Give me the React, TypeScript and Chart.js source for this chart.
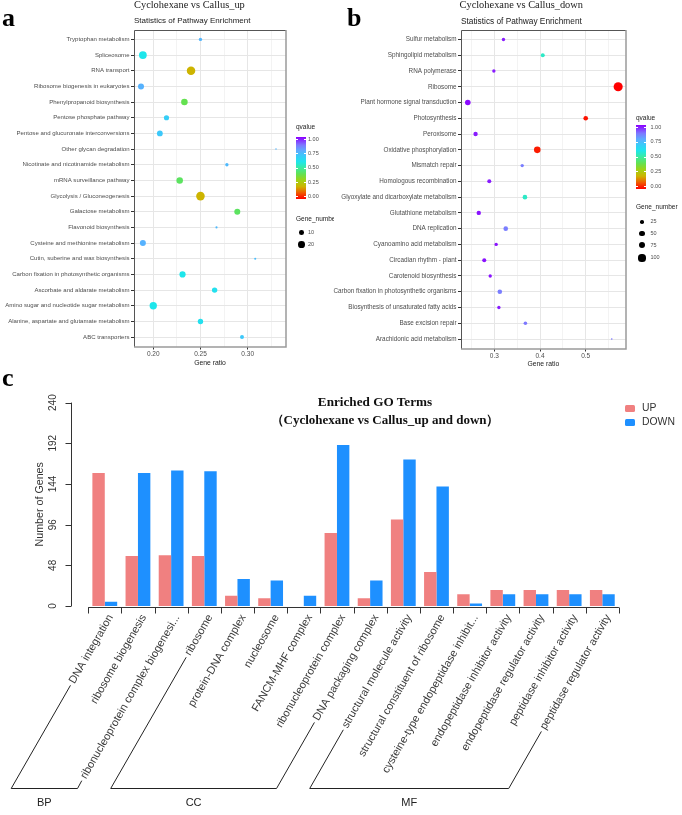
import React, { useEffect, useRef } from 'react';
import { Chart, registerables } from 'chart.js';
Chart.register(...registerables);

const SANS = '"Liberation Sans", Arial, sans-serif';
const SERIF = '"Liberation Serif", "Times New Roman", serif';

// ---------- Panel a : Cyclohexane vs Callus_up ----------
const catsA = [
  'Tryptophan metabolism', 'Spliceosome', 'RNA transport', 'Ribosome biogenesis in eukaryotes',
  'Phenylpropanoid biosynthesis', 'Pentose phosphate pathway', 'Pentose and glucuronate interconversions',
  'Other glycan degradation', 'Nicotinate and nicotinamide metabolism', 'mRNA surveillance pathway',
  'Glycolysis / Gluconeogenesis', 'Galactose metabolism', 'Flavonoid biosynthesis',
  'Cysteine and methionine metabolism', 'Cutin, suberine and wax biosynthesis',
  'Carbon fixation in photosynthetic organisms', 'Ascorbate and aldarate metabolism',
  'Amino sugar and nucleotide sugar metabolism', 'Alanine, aspartate and glutamate metabolism',
  'ABC transporters',
];
const ratioA = [0.250, 0.189, 0.240, 0.187, 0.233, 0.214, 0.207, 0.330, 0.278, 0.228, 0.250, 0.289, 0.267, 0.189, 0.308, 0.231, 0.265, 0.200, 0.250, 0.294];
const genesA = [5, 27, 32, 16, 19, 12, 15, 1, 5, 19, 33, 16, 2, 16, 2, 17, 13, 24, 13, 7];
const qA = [0.75, 0.6, 0.2, 0.76, 0.4, 0.68, 0.7, 0.75, 0.74, 0.42, 0.2, 0.42, 0.74, 0.76, 0.73, 0.6, 0.62, 0.6, 0.62, 0.7];
const sizeBreaksA = [10, 20];

// ---------- Panel b : Cyclohexane vs Callus_down ----------
const catsB = [
  'Sulfur metabolism', 'Sphingolipid metabolism', 'RNA polymerase', 'Ribosome',
  'Plant hormone signal transduction', 'Photosynthesis', 'Peroxisome', 'Oxidative phosphorylation',
  'Mismatch repair', 'Homologous recombination', 'Glyoxylate and dicarboxylate metabolism',
  'Glutathione metabolism', 'DNA replication', 'Cyanoamino acid metabolism', 'Circadian rhythm - plant',
  'Carotenoid biosynthesis', 'Carbon fixation in photosynthetic organisms',
  'Biosynthesis of unsaturated fatty acids', 'Base excision repair', 'Arachidonic acid metabolism',
];
const ratioB = [0.320, 0.406, 0.299, 0.571, 0.242, 0.500, 0.259, 0.394, 0.361, 0.289, 0.367, 0.266, 0.325, 0.304, 0.278, 0.291, 0.312, 0.310, 0.368, 0.557];
const genesB = [22, 31, 22, 160, 60, 41, 37, 84, 22, 31, 41, 37, 41, 22, 31, 22, 41, 22, 25, 5];
const qB = [0.97, 0.55, 0.97, 0, 0.99, 0.02, 0.97, 0.03, 0.86, 0.97, 0.55, 0.98, 0.86, 0.98, 0.98, 0.98, 0.86, 0.97, 0.87, 0.87];
const sizeBreaksB = [25, 50, 75, 100];

const qBreaks = [1, 0.75, 0.5, 0.25, 0];

// ---------- Panel c : Enriched GO terms ----------
const goTerms = [
  'DNA integration', 'ribosome biogenesis', 'ribonucleoprotein complex biogenesi...', 'ribosome',
  'protein-DNA complex', 'nucleosome', 'FANCM-MHF complex', 'ribonucleoprotein complex',
  'DNA packaging complex', 'structural molecule activity', 'structural constituent of ribosome',
  'cysteine-type endopeptidase inhibit...', 'endopeptidase inhibitor activity',
  'endopeptidase regulator activity', 'peptidase inhibitor activity', 'peptidase regulator activity',
];
const upGenes = [157, 59, 60, 59, 12, 9, 0, 86, 9, 102, 40, 14, 19, 19, 19, 19];
const downGenes = [5, 157, 160, 159, 32, 30, 12, 190, 30, 173, 141, 3, 14, 14, 14, 14];
const yTicksC = [0, 48, 96, 144, 192, 240];
const groupNames = ['BP', 'CC', 'MF'];
const groupFirst = [0, 3, 9];
const groupLast = [2, 8, 15];

// ---------- colour scale ----------
const qStops: [number, number[]][] = [
  [0, [255, 0, 0]], [0.1, [240, 90, 0]], [0.2, [205, 180, 0]], [0.3, [160, 210, 20]],
  [0.4, [100, 225, 80]], [0.5, [60, 235, 160]], [0.6, [30, 230, 235]], [0.7, [60, 200, 250]],
  [0.78, [95, 170, 255]], [0.87, [125, 120, 255]], [1, [140, 0, 255]],
];
function qColor(q: number): string {
  for (let i = 1; i < qStops.length; i++) {
    const [p0, c0] = qStops[i - 1];
    const [p1, c1] = qStops[i];
    if (q <= p1) {
      const t = (q - p0) / (p1 - p0);
      return `rgb(${c0.map((c, k) => Math.round(c + (c1[k] - c) * t)).join(',')})`;
    }
  }
  return `rgb(${qStops[qStops.length - 1][1].join(',')})`;
}
const gradientCss = 'linear-gradient(to top, ' + qStops.map(([p, c]) => `rgb(${c.join(',')}) ${p * 100}%`).join(', ') + ')';

const RA = 0.75; // radius factor panel a
const RB = 0.36; // radius factor panel b
const C_TOP = 390;

function Txt(props: any) {
  const { x, base, size, family = SANS, weight = 400, color = '#1a1a1a', align = 'left', clip, children } = props;
  const k = family === SERIF ? 0.8375 : 0.8465;
  const style: any = {
    position: 'absolute', top: base - k * size, fontSize: size, lineHeight: `${size}px`,
    fontFamily: family, fontWeight: weight, color, whiteSpace: 'nowrap', margin: 0,
  };
  if (align === 'center') { style.left = x - 300; style.width = 600; style.textAlign = 'center'; }
  else style.left = x;
  if (clip) { style.width = clip; style.overflow = 'hidden'; style.height = size * 1.3; }
  return <div style={style}>{children}</div>;
}

function QBar({ x, y1, y0, lx }: any) {
  const pad = 2.2;
  return (
    <>
      <div style={{ position: 'absolute', left: x, top: y1 - pad, width: 10, height: y0 - y1 + 2 * pad, background: gradientCss }} />
      {qBreaks.map((b) => {
        const yy = y0 - b * (y0 - y1);
        return (
          <React.Fragment key={b}>
            <div style={{ position: 'absolute', left: x, top: yy - 0.5, width: 2, height: 1, background: '#fff' }} />
            <div style={{ position: 'absolute', left: x + 8, top: yy - 0.5, width: 2, height: 1, background: '#fff' }} />
            <Txt x={lx} base={yy + 2} size={5.5} color="#4d4d4d">{b.toFixed(2)}</Txt>
          </React.Fragment>
        );
      })}
    </>
  );
}

function SizeLegend({ x, ys, breaks, f, lx }: any) {
  return (
    <>
      {breaks.map((b: number, i: number) => {
        const r = f * Math.sqrt(b);
        return (
          <React.Fragment key={b}>
            <div style={{ position: 'absolute', left: x - r, top: ys[i] - r, width: 2 * r, height: 2 * r, borderRadius: '50%', background: '#000' }} />
            <Txt x={lx} base={ys[i] + 2} size={5.5} color="#4d4d4d">{String(b)}</Txt>
          </React.Fragment>
        );
      })}
    </>
  );
}

function bubbleConfig(cats: string[], ratios: number[], genes: number[], qs: number[], rf: number,
  xMin: number, xMax: number, step: number, labelStep: number, digits: number,
  yW: number, pad: any, xH: number, labelSize: number) {
  const isMajor = (v: number) => Math.abs(v / labelStep - Math.round(v / labelStep)) < 1e-6;
  const yLabels = {
    id: 'ylabels',
    afterDraw(chart: any) {
      const { ctx, chartArea, scales } = chart;
      ctx.save();
      ctx.font = `${labelSize}px ${SANS}`;
      ctx.fillStyle = '#4d4d4d';
      ctx.textAlign = 'right';
      ctx.textBaseline = 'middle';
      cats.forEach((c, i) => ctx.fillText(c, chartArea.left - 4.5, scales.y.getPixelForValue(i + 1)));
      ctx.restore();
    },
  };
  const frame = {
    id: 'frame',
    afterDraw(chart: any) {
      const { ctx, chartArea: { left, right, top, bottom } } = chart;
      ctx.save();
      ctx.lineWidth = 1;
      ctx.strokeStyle = '#555';
      ctx.beginPath();
      ctx.moveTo(Math.round(left) + 0.5, Math.round(bottom));
      ctx.lineTo(Math.round(left) + 0.5, Math.round(top) + 0.5);
      ctx.lineTo(Math.round(right), Math.round(top) + 0.5);
      ctx.stroke();
      ctx.strokeStyle = '#9a9a9a';
      ctx.lineWidth = 1.5;
      ctx.beginPath();
      ctx.moveTo(Math.round(right), Math.round(top));
      ctx.lineTo(Math.round(right), Math.round(bottom));
      ctx.lineTo(Math.round(left), Math.round(bottom));
      ctx.stroke();
      ctx.restore();
    },
  };
  return {
    type: 'bubble',
    data: {
      datasets: [{
        data: cats.map((c, i) => ({ x: ratios[i], y: i + 1, r: rf * Math.sqrt(genes[i]) })),
        backgroundColor: qs.map(qColor),
        borderWidth: 0,
        hoverRadius: 0,
      }],
    },
    options: {
      animation: false, responsive: false, devicePixelRatio: 1, events: [],
      layout: { padding: pad, autoPadding: false },
      plugins: { legend: { display: false }, tooltip: { enabled: false } },
      scales: {
        x: {
          type: 'linear', min: xMin, max: xMax,
          ticks: {
            stepSize: step, includeBounds: false, autoSkip: false, maxRotation: 0, minRotation: 0, padding: 1,
            font: { family: SANS, size: 6.5 }, color: '#4d4d4d',
            callback: (v: any) => (isMajor(Number(v)) ? Number(v).toFixed(digits) : ''),
          },
          grid: {
            color: '#e6e6e6',
            lineWidth: (ctx: any) => (ctx.tick && isMajor(ctx.tick.value) ? 1 : 0.5),
            tickLength: 3,
            tickColor: (ctx: any) => (ctx.tick && isMajor(ctx.tick.value) ? '#333' : 'rgba(0,0,0,0)'),
          },
          border: { display: false },
          title: { display: true, text: 'Gene ratio', font: { family: SANS, size: 6.8 }, color: '#1a1a1a', padding: { top: 0, bottom: 4 } },
          afterFit: (s: any) => { s.height = xH; },
        },
        y: {
          type: 'linear', min: 0.4, max: cats.length + 0.6, reverse: true,
          ticks: { stepSize: 1, includeBounds: false, display: false, autoSkip: false },
          grid: { color: '#e6e6e6', lineWidth: 1, tickLength: 3, tickColor: '#333' },
          border: { display: false },
          afterFit: (s: any) => { s.width = yW; },
        },
      },
    },
    plugins: [yLabels, frame],
  };
}

function goConfig() {
  const goPlugin = {
    id: 'goAxes',
    afterDraw(chart: any) {
      const { ctx, scales: { x, y } } = chart;
      ctx.save();
      ctx.strokeStyle = '#333';
      ctx.fillStyle = '#333';
      ctx.lineWidth = 1;
      // y axis
      const ax = 71.5;
      const y0 = y.getPixelForValue(yTicksC[0]);
      const y1 = y.getPixelForValue(yTicksC[yTicksC.length - 1]);
      ctx.beginPath();
      ctx.moveTo(ax, y0);
      ctx.lineTo(ax, y1);
      yTicksC.forEach((v) => {
        const py = Math.round(y.getPixelForValue(v)) + 0.5;
        ctx.moveTo(ax - 6, py);
        ctx.lineTo(ax, py);
      });
      ctx.stroke();
      ctx.font = `10px ${SANS}`;
      ctx.textAlign = 'center';
      ctx.textBaseline = 'middle';
      yTicksC.forEach((v) => {
        ctx.save();
        ctx.translate(53.5, y.getPixelForValue(v));
        ctx.rotate(-Math.PI / 2);
        ctx.fillText(String(v), 0, 0);
        ctx.restore();
      });
      ctx.font = `10.7px ${SANS}`;
      ctx.save();
      ctx.translate(40.5, (y0 + y1) / 2);
      ctx.rotate(-Math.PI / 2);
      ctx.fillText('Number of Genes', 0, 0);
      ctx.restore();
      // x axis
      const n = goTerms.length;
      const sp = x.getPixelForValue(1) - x.getPixelForValue(0);
      const b0 = x.getPixelForValue(0) - sp / 2;
      const yAx = Math.round(y0) + 1.5;
      ctx.beginPath();
      ctx.moveTo(b0, yAx);
      ctx.lineTo(b0 + n * sp, yAx);
      for (let k = 0; k <= n; k++) {
        const bx = Math.round(b0 + k * sp) + 0.5;
        ctx.moveTo(bx, yAx);
        ctx.lineTo(bx, yAx + 6);
      }
      ctx.stroke();
      // rotated category labels
      const ang = Math.PI / 3;
      const ux = Math.cos(ang);
      const uy = -Math.sin(ang);
      ctx.font = `11px ${SANS}`;
      ctx.fillStyle = '#3a3a3a';
      ctx.textAlign = 'right';
      ctx.textBaseline = 'middle';
      const ay = yAx + 8;
      const starts = goTerms.map((t, i) => {
        const axp = x.getPixelForValue(i) + 6;
        ctx.save();
        ctx.translate(axp, ay);
        ctx.rotate(-ang);
        ctx.fillText(t, 0, 0);
        ctx.restore();
        const L = ctx.measureText(t).width;
        return [axp - L * ux, ay - L * uy];
      });
      // group brackets
      const yB = 788 - C_TOP;
      const gap = 3;
      ctx.strokeStyle = '#222';
      ctx.fillStyle = '#222';
      const arm = (i: number) => {
        const [sx, sy] = starts[i];
        const tx = sx - gap * ux;
        const ty = sy - gap * uy;
        const t = (yB - ty) / -uy;
        return [[tx, ty], [tx - t * ux, yB]];
      };
      groupNames.forEach((g, gi) => {
        const [lt, lb] = arm(groupFirst[gi]);
        const [rt, rb] = arm(groupLast[gi]);
        ctx.beginPath();
        ctx.moveTo(lt[0], lt[1]);
        ctx.lineTo(lb[0], lb[1] + 0.5);
        ctx.lineTo(rb[0], rb[1] + 0.5);
        ctx.lineTo(rt[0], rt[1]);
        ctx.stroke();
        ctx.textAlign = 'center';
        ctx.font = `11px ${SANS}`;
        ctx.fillText(g, (lb[0] + rb[0]) / 2, 803 - C_TOP);
      });
      ctx.restore();
    },
  };
  return {
    type: 'bar',
    data: {
      labels: goTerms,
      datasets: [
        { label: 'UP', data: upGenes, backgroundColor: '#F08080', categoryPercentage: 0.748, barPercentage: 1 },
        { label: 'DOWN', data: downGenes, backgroundColor: '#1E90FF', categoryPercentage: 0.748, barPercentage: 1 },
      ],
    },
    options: {
      animation: false, responsive: false, devicePixelRatio: 1, events: [],
      layout: { padding: { left: 88.2, right: 63.1, top: 12.6, bottom: 209 }, autoPadding: false },
      plugins: { legend: { display: false }, tooltip: { enabled: false } },
      scales: {
        x: { display: false, offset: true },
        y: { display: false, min: 0, max: 240 },
      },
    },
    plugins: [goPlugin],
  };
}

export default function App() {
  const refA = useRef<HTMLCanvasElement>(null);
  const refB = useRef<HTMLCanvasElement>(null);
  const refC = useRef<HTMLCanvasElement>(null);

  useEffect(() => {
    const a = new Chart(refA.current as any, bubbleConfig(catsA, ratioA, genesA, qA, RA,
      0.1796, 0.3406, 0.025, 0.05, 2, 134, { left: 0, right: 54, top: 30, bottom: 9.2 }, 24.3, 6.05) as any);
    const b = new Chart(refB.current as any, bubbleConfig(catsB, ratioB, genesB, qB, RB,
      0.2271, 0.5875, 0.05, 0.1, 1, 141, { left: 0, right: 56.3, top: 30, bottom: 7.9 }, 23.6, 6.35) as any);
    const c = new Chart(refC.current as any, goConfig() as any);
    return () => { a.destroy(); b.destroy(); c.destroy(); };
  }, []);

  return (
    <div style={{ position: 'fixed', left: 0, top: 0, width: 682, height: 815, background: '#fff', overflow: 'hidden' }}>
      <canvas ref={refA} width={340} height={380} style={{ position: 'absolute', left: 0, top: 0, width: 340, height: 380 }} />
      <canvas ref={refB} width={362} height={380} style={{ position: 'absolute', left: 320, top: 0, width: 362, height: 380 }} />
      <canvas ref={refC} width={682} height={425} style={{ position: 'absolute', left: 0, top: C_TOP, width: 682, height: 425 }} />

      {/* panel a texts */}
      <Txt x={2} base={27} size={26} family={SERIF} weight={700} color="#000">a</Txt>
      <Txt x={134} base={8.5} size={10.4} family={SERIF} color="#1a1a1a">Cyclohexane vs Callus_up</Txt>
      <Txt x={134} base={23.9} size={8} color="#1a1a1a">Statistics of Pathway Enrichment</Txt>
      <Txt x={296} base={130} size={6.5}>qvalue</Txt>
      <QBar x={296} y1={139.3} y0={196.7} lx={308} />
      <Txt x={296} base={221.3} size={6.5} clip={38}>Gene_number</Txt>
      <SizeLegend x={301.3} ys={[232.3, 244.3]} breaks={sizeBreaksA} f={RA} lx={308} />

      {/* panel b texts */}
      <Txt x={347} base={27} size={26} family={SERIF} weight={700} color="#000">b</Txt>
      <Txt x={459.5} base={8.5} size={10.4} family={SERIF} color="#1a1a1a">Cyclohexane vs Callus_down</Txt>
      <Txt x={461} base={23.9} size={8.3} color="#1a1a1a">Statistics of Pathway Enrichment</Txt>
      <Txt x={636} base={120.3} size={6.5}>qvalue</Txt>
      <QBar x={636} y1={127.3} y0={186.7} lx={650.5} />
      <Txt x={636} base={209.6} size={6.5}>Gene_number</Txt>
      <SizeLegend x={642} ys={[222, 233.3, 245.3, 258]} breaks={sizeBreaksB} f={RB} lx={650.5} />

      {/* panel c texts */}
      <Txt x={2} base={387} size={26} family={SERIF} weight={700} color="#000">c</Txt>
      <Txt x={375} base={406} size={13.2} family={SERIF} weight={700} color="#111" align="center">Enriched GO Terms</Txt>
      <Txt x={385} base={423.5} size={13} family={SERIF} weight={700} color="#111" align="center">（Cyclohexane vs Callus_up and down）</Txt>
      <div style={{ position: 'absolute', left: 625, top: 404.5, width: 10, height: 7, borderRadius: 1.5, background: '#F08080' }} />
      <Txt x={642} base={411.4} size={10.4} color="#333">UP</Txt>
      <div style={{ position: 'absolute', left: 625, top: 418.5, width: 10, height: 7, borderRadius: 1.5, background: '#1E90FF' }} />
      <Txt x={642} base={425.4} size={10.4} color="#333">DOWN</Txt>
    </div>
  );
}
